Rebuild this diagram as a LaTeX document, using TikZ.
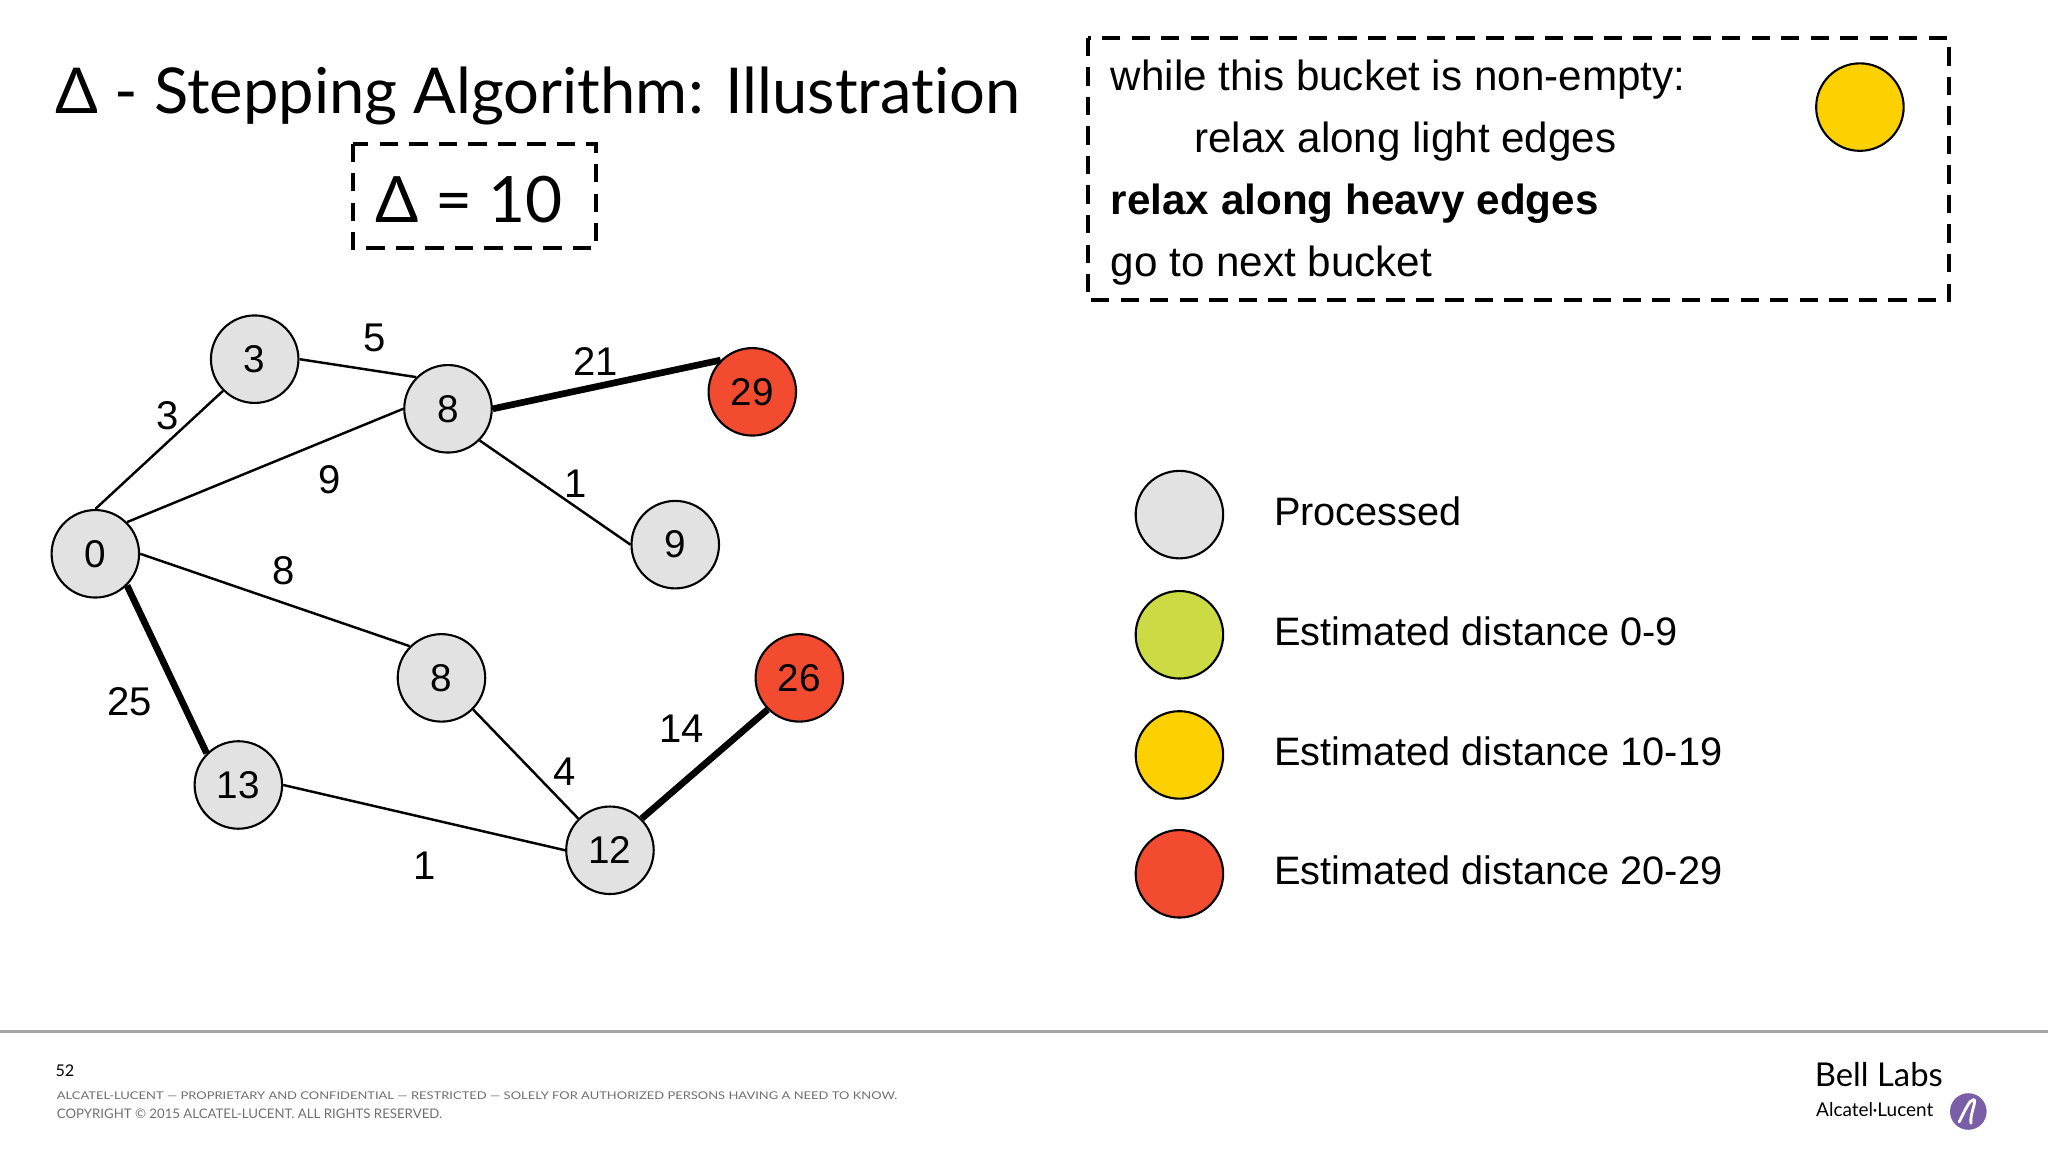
\documentclass[tikz,border=0pt]{standalone}
\usepackage{fontspec}
\setmainfont{Liberation Sans}
\newfontfamily\gillfont[Ligatures=NoCommon]{Lato}
\usetikzlibrary{positioning,calc}
\definecolor{procgray}{HTML}{E2E2E2}
\definecolor{lowgreen}{HTML}{CCDB44}
\definecolor{midyellow}{HTML}{FDD100}
\definecolor{highred}{HTML}{F24B2F}
\definecolor{alupurple}{HTML}{7B5EA8}
\definecolor{footgray}{HTML}{707070}
\tikzset{
  place/.style={circle,draw=black,line width=0.6pt,fill=procgray,minimum size=0.875cm,
    inner sep=0pt,font=\fontsize{11}{12}\selectfont},
  redplace/.style={place,fill=highred},
  greenplace/.style={place,fill=lowgreen},
  yellowplace/.style={place,fill=midyellow},
  light/.style={line width=0.7pt},
  heavy/.style={line width=1.9pt},
  wlabel/.style={font=\fontsize{11.4}{13}\selectfont,inner sep=0pt},
  dashbox/.style={draw,line width=1.1pt,dash pattern=on 5.2pt off 3.2pt},
  boxtext/.style={anchor=base west,inner sep=0pt,font=\fontsize{12}{14}\selectfont},
  legtext/.style={anchor=base west,inner sep=0pt,font=\fontsize{11.3}{13}\selectfont},
  foottext/.style={anchor=base west,inner sep=0pt,text=footgray}
}

\begin{document}
\begin{tikzpicture}[x=0.013061cm,y=-0.013061cm]
  \useasboundingbox (0,0) rectangle (1568,882);

  % title and bucket width
  \node [anchor=base west,inner sep=0pt,font=\gillfont\fontsize{18}{20}\selectfont] (title) at (42,87)
        {Δ - Stepping Algorithm: Illustration};
  \node [anchor=base west,inner sep=0pt,font=\gillfont\fontsize{18.2}{20}\selectfont] (delta) at (287,170) {Δ = 10};
  \draw [dashbox] (270,110) rectangle (456,190);

  % current bucket
  \draw [dashbox] (833,29) rectangle (1492,230);
  \node [boxtext] (s1) at (850,69) {while this bucket is non-empty:};
  \node [boxtext] (s2) at (914,117) {relax along light edges};
  \node [boxtext,font=\fontsize{12}{14}\selectfont\bfseries] (s3) at (850,164.5) {relax along heavy edges};
  \node [boxtext] (s4) at (850,212) {go to next bucket};
  \node [yellowplace] (cur) at (1424,82) {};

  % graph
  \node [place] (n0)  at (73,424)  {0};
  \node [place] (n3)  at (195,275) {3};
  \node [place] (n8a) at (343,313) {8};
  \node [redplace] (n29) at (576,300) {29};
  \node [place] (n9)  at (517,417) {9};
  \node [place] (n8b) at (338,519) {8};
  \node [place] (n13) at (182.5,601) {13};
  \node [place] (n12) at (467,651) {12};
  \node [redplace] (n26) at (612,519) {26};

  \draw [light] (n0.north) -- (n3.south west);
  \draw [light] (n3.east) -- (n8a.north west);
  \draw [light] (n0.north east) -- (n8a.west);
  \draw [heavy] (n8a.east) -- (n29.north west);
  \draw [light] (n8a.south east) -- (n9.west);
  \draw [light] (n0.east) -- (n8b.north west);
  \draw [heavy] (n0.south east) -- (n13.north west);
  \draw [light] (n8b.south east) -- (n12.north west);
  \draw [light] (n13.east) -- (n12.west);
  \draw [heavy] (n12.north east) -- (n26.south west);

  \node [wlabel] (w03)   at (128,318) {3};
  \node [wlabel] (w38)   at (287,259) {5};
  \node [wlabel] (w08)   at (252,367) {9};
  \node [wlabel] (w829)  at (456,277) {21};
  \node [wlabel] (w89)   at (441,370) {1};
  \node [wlabel] (w08b)  at (217,437) {8};
  \node [wlabel] (w013)  at (99,537)  {25};
  \node [wlabel] (w812)  at (432,591) {4};
  \node [wlabel] (w1312) at (325,663) {1};
  \node [wlabel] (w1226) at (522,558) {14};

  % legend
  \foreach \st/\yy/\txt in {place/394/Processed,greenplace/486/Estimated distance 0-9,
      yellowplace/578/Estimated distance 10-19,redplace/669/Estimated distance 20-29}{
    \node [\st] (leg\yy) at (903,\yy) {};
    \node [legtext] (legt\yy) at (975,\yy+8) {\txt};
  }

  % footer
  \draw [line width=0.8pt,color=gray!70] (0,790) -- (1568,790);
  \node [foottext,text=black,font=\gillfont\fontsize{4.6}{5}\selectfont] (page) at (42,824) {52};
  \node [foottext,font=\gillfont] (conf) at (43,842)
        {\resizebox{239pt}{2.2pt}{ALCATEL-LUCENT — PROPRIETARY AND CONFIDENTIAL — RESTRICTED — SOLELY FOR AUTHORIZED PERSONS HAVING A NEED TO KNOW.}};
  \node [foottext,font=\gillfont] (copy) at (43,856)
        {\resizebox{109.6pt}{!}{COPYRIGHT © 2015 ALCATEL-LUCENT. ALL RIGHTS RESERVED.}};
  \node [anchor=base west,inner sep=0pt,font=\gillfont\fontsize{10}{12}\selectfont] (bell) at (1389,832)
        {\resizebox{36.4pt}{!}{Bell Labs}};
  \node [anchor=base west,inner sep=0pt,font=\gillfont\fontsize{5.4}{6}\selectfont] (alc) at (1390,855) {Alcatel·Lucent};
  \node [circle,fill=alupurple,inner sep=0pt,minimum size=0.366cm] (alu) at (1507,851) {};
  \draw [white,line width=0.8pt,line cap=round] ($(alu)+(-7,8)$) .. controls ($(alu)+(-2,-2)$) and ($(alu)+(1,-9)$) .. ($(alu)+(4,-9)$)
        .. controls ($(alu)+(7,-9)$) and ($(alu)+(1,2)$) .. ($(alu)+(2,9)$);
\end{tikzpicture}
\end{document}
